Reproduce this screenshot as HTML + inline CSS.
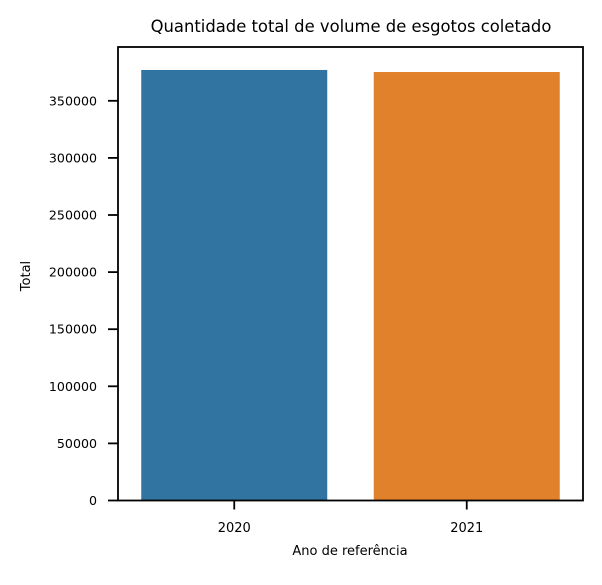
<!DOCTYPE html>
<html><head><meta charset="utf-8"><style>
html,body{margin:0;padding:0;background:#fff;}
svg text{font-family:"DejaVu Sans","Liberation Sans",sans-serif;fill:#000;}
</style></head><body>
<svg id="chart" width="602" height="580" xmlns="http://www.w3.org/2000/svg">
<rect width="602" height="580" fill="#fff"/>
<text x="351" y="32" font-size="16.4" text-anchor="middle">Quantidade total de volume de esgotos coletado</text>
<g id="bars"></g>
<g id="yaxis"></g>
<g id="xaxis"></g>
<rect x="118" y="47" width="465" height="453.5" fill="none" stroke="#000" stroke-width="1.8"/>
<text transform="translate(30,276) rotate(-90)" font-size="13" text-anchor="middle">Total</text>
<text x="350" y="555" font-size="13" text-anchor="middle">Ano de referência</text>
</svg>
<script>
const categories = ["2020", "2021"];
const totals = [377000, 375200];
const colors = ["#3274a1", "#e1812c"];
const yTicks = [0, 50000, 100000, 150000, 200000, 250000, 300000, 350000];

const ns = "http://www.w3.org/2000/svg";
const L = 118, R = 583, y0 = 500.5, pxPer = 57.1 / 50000;
const y = v => y0 - v * pxPer;
const band = (R - L) / categories.length;
const x = i => L + band * (i + 0.5);
function mk(tag, attrs, parent) {
  const e = document.createElementNS(ns, tag);
  for (const k in attrs) e.setAttribute(k, attrs[k]);
  parent.appendChild(e);
  return e;
}
const gb = document.getElementById("bars"), gy = document.getElementById("yaxis"), gx = document.getElementById("xaxis");
categories.forEach((c, i) => {
  const w = band * 0.8;
  const r = mk("rect", {x: x(i) - w / 2, y: y(totals[i]), width: w, height: y0 - y(totals[i]), fill: colors[i]}, gb);
  
  
  const t = mk("line", {x1: x(i), x2: x(i), y1: y0, y2: y0 + 9, stroke: "#000", "stroke-width": 1.8}, gx);
  
  
  const l = mk("text", {x: x(i), y: y0 + 31.5, "font-size": 13, "text-anchor": "middle"}, gx);
  l.textContent = c;
  
  
});
yTicks.forEach(v => {
  const t = mk("line", {x1: L - 10, x2: L, y1: y(v), y2: y(v), stroke: "#000", "stroke-width": 1.8}, gy);
  
  
  const l = mk("text", {x: L - 21, y: y(v) + 4.5, "font-size": 12.6, "text-anchor": "end"}, gy);
  l.textContent = v;
  
  
});
</script>
</body></html>
